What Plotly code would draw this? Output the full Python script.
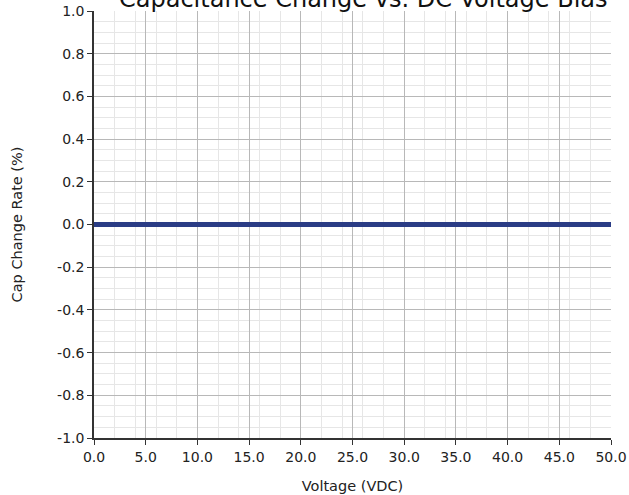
import plotly.graph_objects as go

voltage = [0, 5, 10, 15, 20, 25, 30, 35, 40, 45, 50]
cap_change = [0, 0, 0, 0, 0, 0, 0, 0, 0, 0, 0]

x_tick_vals = [0, 5, 10, 15, 20, 25, 30, 35, 40, 45, 50]
x_tick_text = ["0.0", "5.0", "10.0", "15.0", "20.0", "25.0", "30.0", "35.0", "40.0", "45.0", "50.0"]
y_tick_vals = [-1.0, -0.8, -0.6, -0.4, -0.2, 0.0, 0.2, 0.4, 0.6, 0.8, 1.0]
y_tick_text = ["-1.0", "-0.8", "-0.6", "-0.4", "-0.2", "0.0", "0.2", "0.4", "0.6", "0.8", "1.0"]

title_text = "Capacitance Change vs. DC Voltage Bias"
font_family = "DejaVu Sans, sans-serif"

fig = go.Figure()
fig.add_trace(go.Scatter(
    x=voltage, y=cap_change, mode="lines",
    line=dict(color="#2a3c85", width=5),
    showlegend=False,
))

fig.update_layout(
    width=629, height=495,
    margin=dict(l=94, r=18, t=11, b=57),
    paper_bgcolor="white", plot_bgcolor="white",
    font=dict(family=font_family, size=14, color="#222"),
)
fig.add_annotation(
    text=title_text, xref="paper", yref="paper", x=0.522, y=1.0,
    xanchor="center", yanchor="middle", yshift=12, showarrow=False,
    font=dict(family=font_family, size=24, color="#111"),
)

fig.update_xaxes(
    range=[0, 50], tickvals=x_tick_vals, ticktext=x_tick_text,
    automargin=False,
    showline=True, linecolor="#333", linewidth=1.5,
    ticks="outside", ticklen=5, tickcolor="#333",
    showgrid=True, gridcolor="#b8b8b8", gridwidth=1,
    minor=dict(dtick=2, showgrid=True, gridcolor="#e6e6e6", gridwidth=1),
    zeroline=False,
    title=dict(text="Voltage (VDC)", font=dict(size=14.5), standoff=17),
    tickfont=dict(size=14),
)
fig.update_yaxes(
    range=[-1, 1], tickvals=y_tick_vals, ticktext=y_tick_text,
    automargin=False,
    showline=True, linecolor="#333", linewidth=1.5,
    ticks="outside", ticklen=5, tickcolor="#333",
    showgrid=True, gridcolor="#b8b8b8", gridwidth=1,
    minor=dict(dtick=0.05, tick0=0, showgrid=True, gridcolor="#e6e6e6", gridwidth=1),
    zeroline=False,
    title=dict(text="Cap Change Rate (%)", font=dict(size=14.5), standoff=31),
    tickfont=dict(size=14),
)

fig.write_html("out.html", config={"displayModeBar": False},
               post_script="document.body.style.margin='0';")
